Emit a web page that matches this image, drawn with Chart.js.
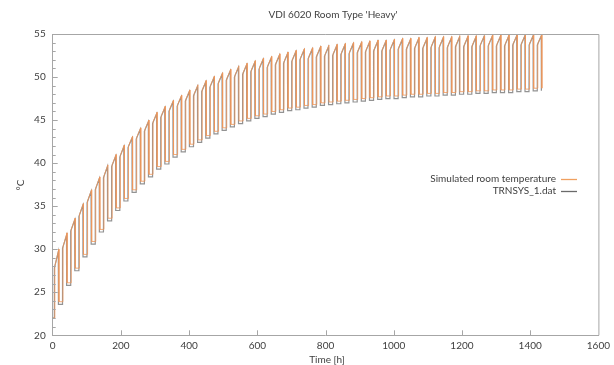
<!DOCTYPE html>
<html>
<head>
<meta charset="utf-8">
<script src="https://cdn.jsdelivr.net/npm/chart.js@4.4.1/dist/chart.umd.min.js"></script>
<style>
  html, body { margin: 0; padding: 0; background: #fff; }
  canvas { display: block; }
</style>
</head>
<body>
<canvas id="chart" width="614" height="365"></canvas>
<script>
// heating schedule (hour of day) and starting temperature
const heatOnHour = 6;
const heatOffHour = 18;
const startTemp = 22;
// TRNSYS output switches a little earlier than the simulation
const simLag = 0;
const trnLag = -1.5;

// simulated room temperature, per day: value right after heating on, peak at heating off, low after heating off
const simTopStart = [
  28.0, 30.3, 32.3, 34.0, 35.6, 37.1, 38.5, 39.8, 40.9, 42.0,
  43.0, 43.9, 44.8, 45.5, 46.2, 46.8, 47.4, 48.0, 48.5, 49.0,
  49.4, 49.8, 50.2, 50.5, 50.8, 51.1, 51.3, 51.6, 51.8, 52.0,
  52.2, 52.3, 52.5, 52.6, 52.7, 52.8, 52.9, 53.0, 53.1, 53.2,
  53.2, 53.3, 53.4, 53.4, 53.5, 53.5, 53.6, 53.6, 53.6, 53.7,
  53.7, 53.7, 53.8, 53.8, 53.8, 53.8, 53.9, 53.9, 53.9, 53.9
];
const simPeak = [
  30.0, 31.9, 33.6, 35.3, 36.9, 38.4, 39.8, 41.0, 42.1, 43.1,
  44.1, 45.0, 45.9, 46.6, 47.3, 47.9, 48.5, 49.1, 49.6, 50.1,
  50.5, 50.9, 51.3, 51.6, 51.9, 52.2, 52.4, 52.7, 52.9, 53.1,
  53.3, 53.4, 53.6, 53.7, 53.8, 53.9, 54.0, 54.1, 54.2, 54.3,
  54.3, 54.4, 54.5, 54.5, 54.6, 54.6, 54.7, 54.7, 54.7, 54.8,
  54.8, 54.8, 54.8, 54.9, 54.9, 54.9, 54.9, 54.9, 54.9, 54.9
];
const simLow = [
  23.9, 26.1, 27.8, 29.4, 30.9, 32.3, 33.6, 34.8, 35.9, 36.9,
  37.9, 38.7, 39.6, 40.2, 41.0, 41.6, 42.2, 42.7, 43.2, 43.7,
  44.1, 44.5, 44.9, 45.2, 45.5, 45.7, 46.0, 46.2, 46.4, 46.5,
  46.7, 46.8, 47.0, 47.1, 47.2, 47.3, 47.4, 47.5, 47.6, 47.7,
  47.8, 47.8, 47.9, 48.0, 48.0, 48.1, 48.1, 48.2, 48.2, 48.3,
  48.3, 48.4, 48.4, 48.5, 48.5, 48.5, 48.6, 48.6, 48.7, 48.7
];

// TRNSYS_1.dat
const trnTopStart = [
  27.8, 30.1, 32.1, 33.8, 35.4, 36.9, 38.3, 39.6, 40.7, 41.8,
  42.8, 43.7, 44.6, 45.3, 46.0, 46.6, 47.2, 47.8, 48.3, 48.8,
  49.2, 49.6, 50.0, 50.3, 50.6, 50.9, 51.1, 51.4, 51.6, 51.8,
  52.0, 52.1, 52.3, 52.4, 52.5, 52.6, 52.7, 52.8, 52.9, 53.0,
  53.0, 53.1, 53.2, 53.2, 53.3, 53.3, 53.4, 53.4, 53.4, 53.5,
  53.5, 53.5, 53.6, 53.6, 53.6, 53.6, 53.7, 53.7, 53.7, 53.7
];
const trnPeak = [
  29.7, 31.6, 33.4, 35.1, 36.7, 38.2, 39.6, 40.8, 41.9, 42.9,
  43.9, 44.8, 45.7, 46.4, 47.1, 47.7, 48.3, 48.9, 49.4, 49.9,
  50.3, 50.7, 51.1, 51.4, 51.7, 52.0, 52.2, 52.5, 52.7, 52.9,
  53.1, 53.2, 53.4, 53.5, 53.6, 53.7, 53.8, 53.9, 54.0, 54.1,
  54.1, 54.2, 54.3, 54.3, 54.4, 54.4, 54.5, 54.5, 54.5, 54.6,
  54.6, 54.6, 54.7, 54.7, 54.7, 54.7, 54.8, 54.8, 54.8, 54.8
];
const trnLow = [
  23.6, 25.8, 27.5, 29.1, 30.6, 32.0, 33.3, 34.5, 35.6, 36.6,
  37.6, 38.4, 39.3, 39.9, 40.7, 41.3, 41.9, 42.4, 42.9, 43.4,
  43.8, 44.2, 44.6, 44.9, 45.2, 45.4, 45.7, 45.9, 46.1, 46.2,
  46.4, 46.5, 46.7, 46.8, 46.9, 47.0, 47.1, 47.2, 47.3, 47.4,
  47.5, 47.5, 47.6, 47.7, 47.7, 47.8, 47.8, 47.9, 47.9, 48.0,
  48.0, 48.1, 48.1, 48.2, 48.2, 48.2, 48.3, 48.3, 48.4, 48.4
];

const xTicks = [0, 200, 400, 600, 800, 1000, 1200, 1400, 1600];
const yTicks = [20, 25, 30, 35, 40, 45, 50, 55];

const simColor = 'rgba(238, 150, 90, 0.8)';
const trnColor = 'rgba(40, 40, 40, 0.5)';

// one point per schedule switch: low before heating on, jump, peak at heating off, drop
function buildSeries(topStart, peak, low, lag) {
  const pts = [{ x: 0, y: startTemp }];
  let prevLow = startTemp;
  topStart.forEach((top, d) => {
    const t0 = d * 24 + lag;
    pts.push({ x: t0 + heatOnHour, y: prevLow });
    pts.push({ x: t0 + heatOnHour + 0.3, y: top });
    pts.push({ x: t0 + heatOffHour, y: peak[d] });
    pts.push({ x: t0 + heatOffHour + 0.3, y: low[d] });
    prevLow = low[d];
  });
  return pts;
}

const frameColor = '#a6a6a6';
const textColor = '#404040';
const font = 'Lato, "Liberation Sans", sans-serif';

const decor = {
  id: 'decor',
  afterDraw(chart) {
    const { ctx, chartArea: a, scales: { x, y } } = chart;
    ctx.save();
    ctx.strokeStyle = frameColor;
    ctx.lineWidth = 1;
    ctx.beginPath();
    ctx.moveTo(a.left, a.top + 0.5);
    ctx.lineTo(a.right + 0.5, a.top + 0.5);
    ctx.lineTo(a.right + 0.5, a.bottom);
    ctx.stroke();

    // inward ticks
    ctx.beginPath();
    for (let v = 21; v < 55; v++) {
      const py = Math.round(y.getPixelForValue(v)) + 0.5;
      const len = v % 5 === 0 ? 5 : 3;
      ctx.moveTo(a.left, py);
      ctx.lineTo(a.left + len, py);
    }
    xTicks.slice(1, -1).forEach(v => {
      const px = Math.round(x.getPixelForValue(v)) + 0.5;
      ctx.moveTo(px, a.bottom);
      ctx.lineTo(px, a.bottom - 5);
    });
    ctx.stroke();

    ctx.fillStyle = textColor;
    ctx.font = '10px ' + font;
    ctx.textBaseline = 'middle';
    ctx.textAlign = 'center';
    ctx.fillText("VDI 6020 Room Type 'Heavy'", 333, 15);
    ctx.fillText('Time [h]', 327, 360);

    ctx.save();
    ctx.translate(21, 185);
    ctx.rotate(-Math.PI / 2);
    ctx.fillText('°C', 0, 0);
    ctx.restore();

    // legend
    const items = [['Simulated room temperature', '#f0a060', 179], ['TRNSYS_1.dat', '#6a6a6a', 191]];
    ctx.textAlign = 'right';
    ctx.lineWidth = 1.3;
    items.forEach(([label, color, ly]) => {
      ctx.fillStyle = textColor;
      ctx.fillText(label, 556, ly);
      ctx.strokeStyle = color;
      ctx.beginPath();
      ctx.moveTo(561, ly + 0.5);
      ctx.lineTo(577, ly + 0.5);
      ctx.stroke();
    });
    ctx.restore();
  }
};

new Chart(document.getElementById('chart'), {
  type: 'line',
  data: {
    datasets: [
      {
        label: 'Simulated room temperature',
        data: buildSeries(simTopStart, simPeak, simLow, simLag),
        borderColor: simColor,
        borderWidth: 1,
        pointRadius: 0,
        tension: 0,
        order: 1
      },
      {
        label: 'TRNSYS_1.dat',
        data: buildSeries(trnTopStart, trnPeak, trnLow, trnLag),
        borderColor: trnColor,
        borderWidth: 1.2,
        pointRadius: 0,
        tension: 0,
        order: 2
      }
    ]
  },
  options: {
    responsive: false,
    animation: false,
    devicePixelRatio: 1,
    layout: { padding: { left: 0, right: 13, top: 34, bottom: 0 } },
    plugins: {
      legend: { display: false },
      title: { display: false },
      tooltip: { enabled: false }
    },
    scales: {
      x: {
        type: 'linear',
        min: 0,
        max: 1600,
        afterBuildTicks: s => { s.ticks = xTicks.map(v => ({ value: v })); },
        afterFit: s => { s.height = 29.7; },
        grid: { display: false, drawTicks: false },
        border: { color: frameColor, width: 1 },
        ticks: { color: textColor, padding: 4, font: { family: font, size: 10 }, maxRotation: 0, callback: v => String(v) }
      },
      y: {
        min: 20,
        max: 55,
        afterBuildTicks: s => { s.ticks = yTicks.map(v => ({ value: v })); },
        afterFit: s => { s.width = 52.7; },
        grid: { display: false, drawTicks: false },
        border: { color: frameColor, width: 1 },
        ticks: { color: textColor, padding: 7, font: { family: font, size: 10 }, callback: v => String(v) }
      }
    }
  },
  plugins: [decor]
});
</script>
</body>
</html>
